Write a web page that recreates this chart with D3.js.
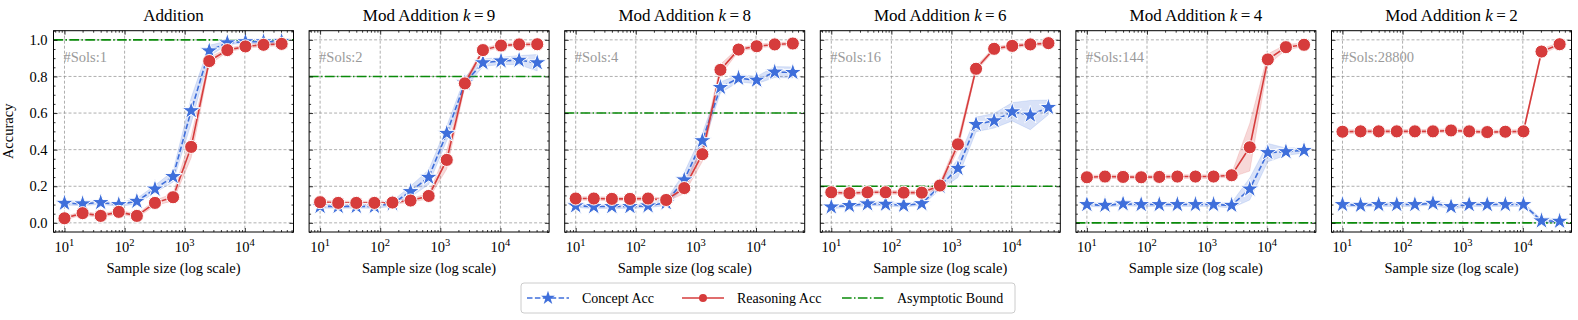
<!DOCTYPE html>
<html>
<head>
<meta charset="utf-8">
<script src="https://cdn.jsdelivr.net/npm/d3@7"></script>
<style>
  body { margin: 0; background: #fff; }
  text { font-family: 'Liberation Serif', 'Times New Roman', 'DejaVu Serif', serif; }
</style>
</head>
<body>
<div id="chart"></div>
<script>
// sample sizes shared by every panel
const sampleSizes = [10, 20, 40, 80, 160, 320, 640, 1280, 2560, 5120, 10240, 20480, 40960]

const panelTitles = ['Addition', 'Mod Addition k=9', 'Mod Addition k=8', 'Mod Addition k=6', 'Mod Addition k=4', 'Mod Addition k=2']
const solCounts = [1, 2, 4, 16, 144, 28800]
const asymptoticBound = [1.0, 0.8, 0.6, 0.2, 0.0, 0.0]

const conceptAcc = [
  [0.107, 0.104, 0.111, 0.100, 0.118, 0.185, 0.253, 0.613, 0.940, 0.984, 0.990, 0.990, 0.992],
  [0.090, 0.090, 0.090, 0.090, 0.105, 0.171, 0.249, 0.489, 0.765, 0.875, 0.885, 0.889, 0.875],
  [0.093, 0.089, 0.089, 0.089, 0.093, 0.110, 0.235, 0.449, 0.740, 0.790, 0.780, 0.824, 0.822],
  [0.087, 0.095, 0.104, 0.102, 0.096, 0.105, 0.200, 0.298, 0.538, 0.558, 0.607, 0.589, 0.631],
  [0.100, 0.096, 0.104, 0.100, 0.100, 0.100, 0.100, 0.100, 0.096, 0.185, 0.384, 0.389, 0.396],
  [0.100, 0.096, 0.100, 0.100, 0.100, 0.107, 0.089, 0.100, 0.100, 0.100, 0.100, 0.011, 0.009]
]
const conceptStd = [
  [0.010, 0.010, 0.010, 0.010, 0.015, 0.020, 0.030, 0.070, 0.030, 0.010, 0.010, 0.010, 0.010],
  [0.010, 0.010, 0.010, 0.010, 0.015, 0.030, 0.040, 0.040, 0.030, 0.020, 0.020, 0.025, 0.045],
  [0.010, 0.010, 0.010, 0.010, 0.010, 0.015, 0.040, 0.040, 0.030, 0.020, 0.020, 0.030, 0.030],
  [0.010, 0.010, 0.010, 0.010, 0.010, 0.010, 0.020, 0.050, 0.040, 0.040, 0.050, 0.080, 0.040],
  [0.010, 0.010, 0.010, 0.010, 0.010, 0.010, 0.010, 0.010, 0.015, 0.060, 0.050, 0.020, 0.015],
  [0.010, 0.010, 0.010, 0.010, 0.010, 0.010, 0.015, 0.010, 0.010, 0.010, 0.010, 0.010, 0.010]
]

const reasoningAcc = [
  [0.025, 0.053, 0.038, 0.060, 0.038, 0.109, 0.140, 0.415, 0.884, 0.944, 0.964, 0.973, 0.978],
  [0.113, 0.109, 0.109, 0.109, 0.111, 0.122, 0.147, 0.344, 0.762, 0.944, 0.969, 0.975, 0.976],
  [0.133, 0.133, 0.131, 0.131, 0.133, 0.125, 0.190, 0.375, 0.836, 0.947, 0.965, 0.975, 0.980],
  [0.167, 0.162, 0.167, 0.167, 0.165, 0.165, 0.204, 0.429, 0.842, 0.951, 0.967, 0.975, 0.982],
  [0.249, 0.253, 0.251, 0.249, 0.251, 0.253, 0.253, 0.253, 0.260, 0.413, 0.893, 0.960, 0.973],
  [0.498, 0.500, 0.500, 0.500, 0.500, 0.500, 0.505, 0.500, 0.496, 0.498, 0.500, 0.936, 0.976]
]
const reasoningStd = [
  [0.010, 0.010, 0.010, 0.010, 0.010, 0.015, 0.020, 0.060, 0.020, 0.010, 0.010, 0.010, 0.010],
  [0.010, 0.010, 0.010, 0.010, 0.010, 0.010, 0.015, 0.050, 0.020, 0.010, 0.010, 0.010, 0.010],
  [0.010, 0.010, 0.010, 0.010, 0.010, 0.010, 0.030, 0.040, 0.030, 0.010, 0.010, 0.010, 0.010],
  [0.010, 0.010, 0.010, 0.010, 0.010, 0.010, 0.015, 0.030, 0.015, 0.010, 0.010, 0.010, 0.010],
  [0.010, 0.010, 0.010, 0.010, 0.010, 0.010, 0.010, 0.010, 0.010, 0.130, 0.030, 0.015, 0.010],
  [0.010, 0.010, 0.010, 0.010, 0.010, 0.010, 0.010, 0.010, 0.010, 0.010, 0.010, 0.015, 0.010]
]

const yTicks = [0, 0.2, 0.4, 0.6, 0.8, 1.0]
const xTicks = [10, 100, 1000, 10000]

const W = 1578, H = 320
const panelLeft = 53.5, panelStep = 255.6, panelW = 240
const padTop = 30.7, padBottom = 232
const blue = '#3f6fdb', red = '#d63c3c', green = '#0a8a0a'
const serif = "'Liberation Serif', 'Times New Roman', 'DejaVu Serif', serif"

const svg = d3.select('#chart').append('svg')
  .attr('width', W).attr('height', H)
  .attr('font-family', serif)

const ph = padBottom - padTop
const x = d3.scaleLog().domain([Math.pow(10, 0.817), Math.pow(10, 4.81)]).range([0, panelW])
const y = d3.scaleLinear().domain([-0.05, 1.05]).range([ph, 0])

const minorX = []
for (let e = 0; e <= 4; e++) for (let m = 2; m <= 9; m++) {
  const v = m * Math.pow(10, e)
  if (v >= x.domain()[0] && v <= x.domain()[1]) minorX.push(v)
}
const minorY = d3.range(-0.05, 1.051, 0.05).map(v => +v.toFixed(2)).filter(v => !yTicks.includes(v))

const star = d3.symbol().type(d3.symbolStar).size(105)
const circle = d3.symbol().type(d3.symbolCircle).size(135)

panelTitles.forEach((title, p) => {
  const g = svg.append('g')
    .attr('transform', `translate(${panelLeft + p * panelStep}, ${padTop})`)

  const clipId = 'clip' + p
  g.append('clipPath').attr('id', clipId)
    .append('rect').attr('width', panelW).attr('height', ph)

  // grid
  const grid = g.append('g')
  grid.selectAll('.gx').data(xTicks).enter().append('line')
    .attr('x1', d => x(d)).attr('x2', d => x(d)).attr('y1', 0).attr('y2', ph)
  grid.selectAll('.gy').data(yTicks).enter().append('line')
    .attr('y1', d => y(d)).attr('y2', d => y(d)).attr('x1', 0).attr('x2', panelW)
  grid.selectAll('line')
    .attr('stroke', '#8c8c8c').attr('stroke-width', 0.7).attr('stroke-dasharray', '3,2')

  const plot = g.append('g').attr('clip-path', `url(#${clipId})`)

  // asymptotic bound
  plot.append('line')
    .attr('x1', 0).attr('x2', panelW)
    .attr('y1', y(asymptoticBound[p])).attr('y2', y(asymptoticBound[p]))
    .attr('stroke', green).attr('stroke-width', 1.6)
    .attr('stroke-dasharray', '9.6,2.4,1.5,2.4')

  const series = [
    { acc: conceptAcc[p], std: conceptStd[p], color: blue, dash: '5.5,2.4', sym: star },
    { acc: reasoningAcc[p], std: reasoningStd[p], color: red, dash: null, sym: circle }
  ]

  series.forEach(s => {
    const pts = sampleSizes.map((n, i) => ({ n, v: s.acc[i], sd: s.std[i] }))
    const area = d3.area().x(d => x(d.n)).y0(d => y(d.v - d.sd)).y1(d => y(d.v + d.sd))
    plot.append('path').datum(pts)
      .attr('d', area)
      .attr('fill', s.color).attr('fill-opacity', 0.2)
      .attr('stroke', s.color).attr('stroke-opacity', 0.15)
  })

  series.forEach(s => {
    const pts = sampleSizes.map((n, i) => ({ n, v: s.acc[i] }))
    const line = d3.line().x(d => x(d.n)).y(d => y(d.v))
    plot.append('path').datum(pts)
      .attr('d', line)
      .attr('fill', 'none').attr('stroke', s.color).attr('stroke-width', 1.6)
      .attr('stroke-dasharray', s.dash)
    g.append('g').selectAll('path').data(pts).enter().append('path')
      .attr('d', s.sym)
      .attr('transform', d => `translate(${x(d.n)}, ${y(d.v)})`)
      .attr('fill', s.color).attr('stroke', '#fff').attr('stroke-width', 1)
  })

  // frame
  g.append('rect').attr('width', panelW).attr('height', ph)
    .attr('fill', 'none').attr('stroke', '#000').attr('stroke-width', 1)

  // inward ticks on all four sides
  const tickAxes = [
    [d3.axisBottom(x), `translate(0, ${ph})`, xTicks, minorX],
    [d3.axisTop(x), 'translate(0, 0)', xTicks, minorX],
    [d3.axisLeft(y), 'translate(0, 0)', yTicks, minorY],
    [d3.axisRight(y), `translate(${panelW}, 0)`, yTicks, minorY]
  ]
  tickAxes.forEach(([ax, tr, major, minor]) => {
    g.append('g').attr('transform', tr)
      .call(ax.tickValues(minor).tickSize(-2).tickFormat(''))
      .call(a => a.select('.domain').remove())
    g.append('g').attr('transform', tr)
      .call(ax.tickValues(major).tickSize(-4).tickFormat(''))
      .call(a => a.select('.domain').remove())
  })
  g.selectAll('.tick line').attr('stroke', '#000').attr('stroke-width', 0.8)

  // x tick labels as 10^k
  xTicks.forEach(t => {
    const txt = g.append('text')
      .attr('x', x(t)).attr('y', ph + 20)
      .attr('text-anchor', 'middle').attr('font-size', 14.5)
    txt.append('tspan').text('10')
    txt.append('tspan').attr('dy', -6).attr('font-size', 10.5).text(Math.round(Math.log10(t)))
  })

  if (p === 0) {
    yTicks.forEach(t => {
      g.append('text')
        .attr('x', -6).attr('y', y(t)).attr('dy', '0.35em')
        .attr('text-anchor', 'end').attr('font-size', 14.5)
        .text(t.toFixed(1))
    })
    g.append('text')
      .attr('transform', `translate(${-41}, ${ph / 2}) rotate(-90)`)
      .attr('text-anchor', 'middle').attr('font-size', 14.5)
      .text('Accuracy')
  }

  g.append('text')
    .attr('x', panelW / 2).attr('y', ph + 41)
    .attr('text-anchor', 'middle').attr('font-size', 14.5)
    .text('Sample size (log scale)')

  // title with italic k
  const tt = g.append('text')
    .attr('x', panelW / 2).attr('y', -10)
    .attr('text-anchor', 'middle').attr('font-size', 17)
  const m = title.match(/^(.*) k=(\d+)$/)
  if (m) {
    tt.append('tspan').text(m[1] + ' ')
    tt.append('tspan').attr('font-style', 'italic').text('k')
    tt.append('tspan').text('\u2009=\u2009' + m[2])
  } else {
    tt.text(title)
  }

  g.append('text')
    .attr('x', 10).attr('y', 31)
    .attr('font-size', 14.5).attr('fill', '#9a9a9a')
    .text('#Sols:' + solCounts[p])
})

// legend
const legendItems = [
  { label: 'Concept Acc', color: blue, dash: '5.5,2.4', sym: d3.symbolStar, size: 60 },
  { label: 'Reasoning Acc', color: red, dash: null, sym: d3.symbolCircle, size: 50 },
  { label: 'Asymptotic Bound', color: green, dash: '9.6,2.4,1.5,2.4', sym: null }
]
const legend = svg.append('g').attr('transform', 'translate(521, 283)')
legend.append('rect')
  .attr('width', 494).attr('height', 30).attr('rx', 3)
  .attr('fill', '#fff').attr('stroke', '#cccccc').attr('stroke-width', 1)
const itemX = [6, 161, 321]
legendItems.forEach((it, i) => {
  const lg = legend.append('g').attr('transform', `translate(${itemX[i]}, 15)`)
  lg.append('line').attr('x1', 0).attr('x2', 42)
    .attr('stroke', it.color).attr('stroke-width', 1.6)
    .attr('stroke-dasharray', it.dash)
  if (it.sym) {
    lg.append('path').attr('d', d3.symbol().type(it.sym).size(it.size))
      .attr('transform', 'translate(21, 0)')
      .attr('fill', it.color)
  }
  lg.append('text').attr('x', 55).attr('dy', '0.35em')
    .attr('font-size', 14).text(it.label)
})
</script>
</body>
</html>
